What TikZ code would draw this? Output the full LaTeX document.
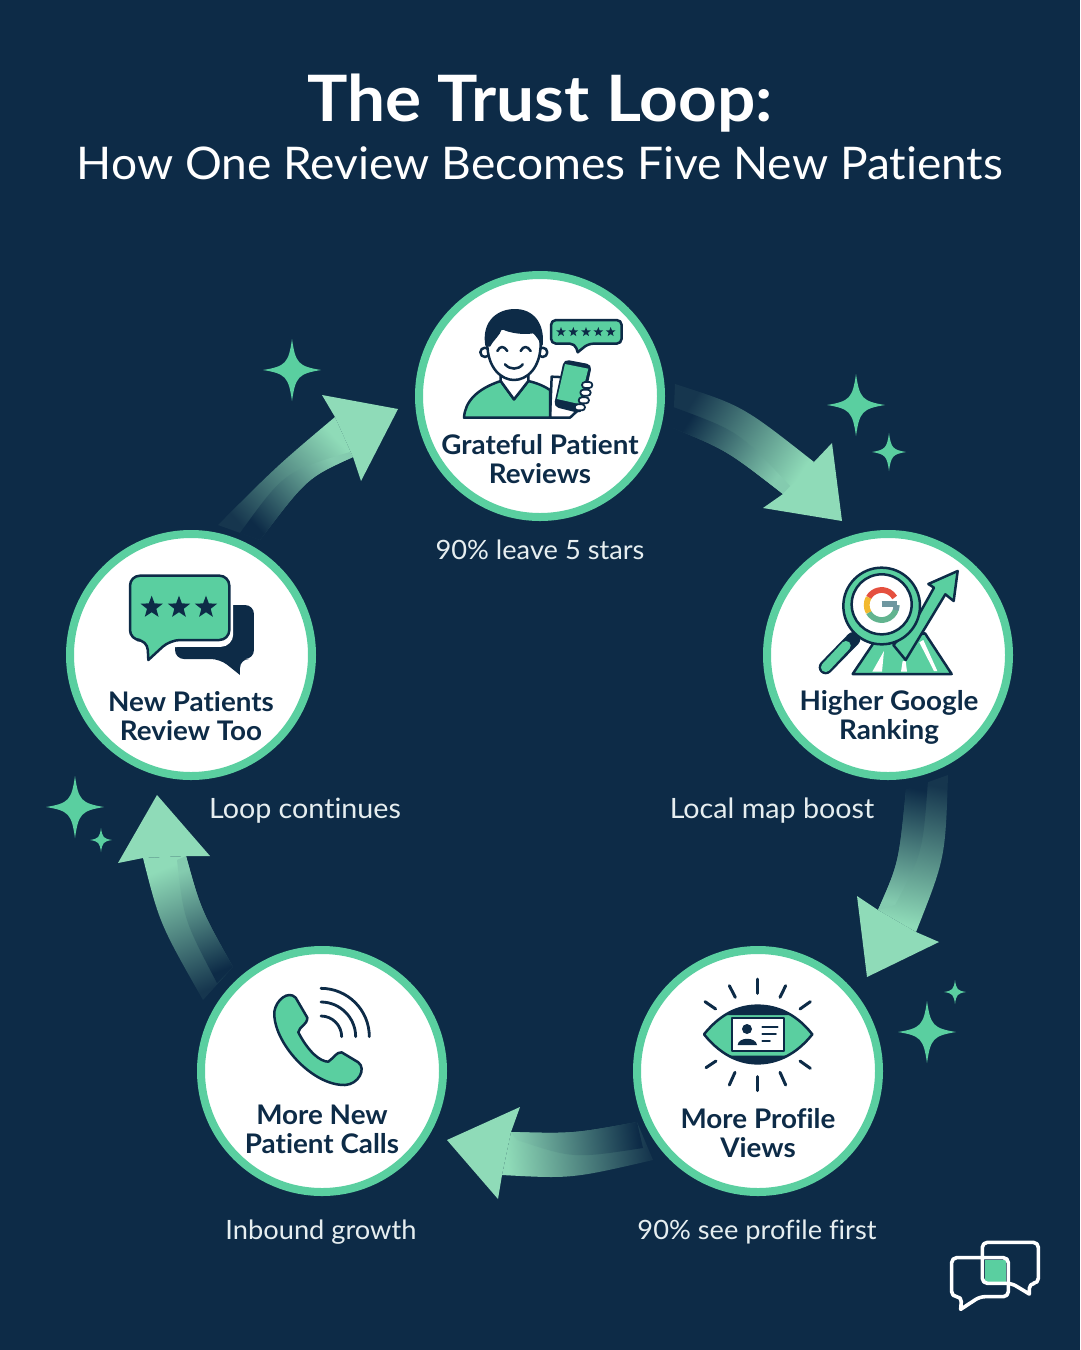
\documentclass[tikz,border=0pt]{standalone}
\usepackage{fontspec}
\setmainfont{Lato}[Ligatures=NoCommon]
\newfontfamily\titlefam{Lato}[Ligatures=NoCommon,FakeStretch=1.055]
\newfontfamily\subfam{Lato}[Ligatures=NoCommon,FakeStretch=1.024]
\newfontfamily\labfam{Lato}[Ligatures=NoCommon,FakeStretch=1.03]
\usetikzlibrary{calc}
\definecolor{bg}{HTML}{0D2B47}
\definecolor{ringc}{HTML}{5ACFA0}
\definecolor{headc}{HTML}{8FDBB8}
\definecolor{midl}{HTML}{78AAA5}
\definecolor{midd}{HTML}{44707A}
\definecolor{startc}{HTML}{16364E}
\definecolor{subc}{HTML}{E6EEF0}
\definecolor{gred}{HTML}{E5503F}
\definecolor{gyel}{HTML}{F2B92F}
\definecolor{ggrn}{HTML}{62B48F}
\definecolor{gblu}{HTML}{6F97A0}
\tikzset{
  stepcircle/.style={circle,draw=ringc,fill=white,line width=8pt,minimum size=242pt,inner sep=0pt},
  steplabel/.style={text=bg,align=center,font=\labfam\fontsize{27}{29}\selectfont\bfseries,inner sep=0pt},
  sublabel/.style={text=subc,font=\subfam\fontsize{28}{30}\selectfont,inner sep=0pt},
  sublabelsmall/.style={text=subc,font=\subfam\fontsize{26.6}{30}\selectfont,inner sep=0pt},
  bandlight/.style={bottom color=startc,middle color=midl,top color=headc},
  banddark/.style={bottom color=bg,middle color=midd,top color=headc!85!midd},
  headfill/.style={fill=headc},
  spark/.style={fill=ringc},
  ico/.style={draw=bg,line width=2.5pt,line join=round,line cap=round},
  icogreen/.style={ico,fill=ringc},
  zoomed/.style={x=0.33333pt,y=-0.33333pt},
}
\newcommand\sparkle[4]{\fill[spark] (#1-#3,#2) .. controls (#1-0.22*#3,#2-0.12*#4) and (#1-0.12*#3,#2-0.22*#4) .. (#1,#2-#4)
 .. controls (#1+0.12*#3,#2-0.22*#4) and (#1+0.22*#3,#2-0.12*#4) .. (#1+#3,#2)
 .. controls (#1+0.22*#3,#2+0.12*#4) and (#1+0.12*#3,#2+0.22*#4) .. (#1,#2+#4)
 .. controls (#1-0.12*#3,#2+0.22*#4) and (#1-0.22*#3,#2+0.12*#4) .. cycle;}
\newcommand\smallstar[3]{\fill[bg,shift={(#1,#2)}] (-90:#3) -- (-54:0.42*#3) -- (-18:#3) -- (18:0.42*#3) -- (54:#3) -- (90:0.42*#3) -- (126:#3) -- (162:0.42*#3) -- (198:#3) -- (234:0.42*#3) -- cycle;}
\begin{document}
\begin{tikzpicture}[x=1pt,y=-1pt]
\useasboundingbox (0,0) rectangle (1080,1350);
\fill[bg] (0,0) rectangle (1080,1350);

% title
\node[text=white,font=\titlefam\fontsize{64}{70}\selectfont\bfseries,inner sep=0pt] (title) at (540,103) {The Trust Loop:};
\node[text=white,font=\subfam\fontsize{45}{50}\selectfont,inner sep=0pt] (subtitle) at (540,163) {How One Review Becomes Five New Patients};

% arrows
\coordinate (tipA) at (842,521);
\coordinate (tipB) at (867,977);
\coordinate (tipC) at (447,1140);
\coordinate (tipD) at (157,795);
\coordinate (tipE) at (398,409);

\shade[bandlight,shading angle=-123] (675,384) .. controls (742.5,405.7) .. (814,462) -- (790,500) -- (783,494) .. controls (726.7,450.3) .. (673,428) -- cycle;
\shade[banddark,shading angle=-123] (673,407) .. controls (738.8,431.2) .. (790,486) -- (783,494) .. controls (726.7,450.3) .. (673,428) -- cycle;
\fill[headfill] (814,462) -- (832,443) -- (tipA) -- (763,508) -- (783,494) -- cycle;

\shade[bandlight,shading angle=-192.5] (948,775) .. controls (945.3,858.2) .. (916,932) -- (878,910) .. controls (898.7,863.3) .. (906,790) -- cycle;
\shade[banddark,shading angle=-192.5] (928,780) .. controls (922.8,852.5) .. (895,905) -- (878,910) .. controls (898.7,863.3) .. (906,790) -- cycle;
\fill[headfill] (916,932) -- (939,942) -- (tipB) -- (857,896) -- (878,910) -- cycle;

\shade[bandlight,shading angle=96] (653,1160) .. controls (571.5,1178.8) .. (502,1175) -- (511,1132) .. controls (572.7,1133.7) .. (637,1122) -- cycle;
\shade[banddark,shading angle=96] (643,1148) .. controls (573.3,1158.7) .. (517,1140) -- (511,1132) .. controls (572.7,1133.7) .. (637,1122) -- cycle;
\fill[headfill] (511,1132) -- (520,1107) -- (tipC) -- (498,1199) -- (502,1175) -- cycle;

\shade[bandlight,shading angle=22] (203,1000) .. controls (159.7,923.7) .. (143,858) -- (186,856) .. controls (200.8,909.5) .. (233,967) -- cycle;
\shade[banddark,shading angle=22] (217,983) .. controls (183.7,919.5) .. (177,860) -- (186,856) .. controls (200.8,909.5) .. (233,967) -- cycle;
\fill[headfill] (186,856) -- (210,856) -- (tipD) -- (118,863) -- (143,858) -- cycle;

\shade[bandlight,shading angle=-47] (218,525) .. controls (277.2,465.7) .. (335,417) -- (353,457) .. controls (307.2,477.8) .. (260,540) -- cycle;
\shade[banddark,shading angle=-47] (240,533) .. controls (284.3,471.8) .. (350,452) -- (353,457) .. controls (307.2,477.8) .. (260,540) -- cycle;
\fill[headfill] (335,417) -- (322,395) -- (tipE) -- (361,481) -- (353,457) -- cycle;

% sparkles
\sparkle{292}{370}{29}{31}
\sparkle{856}{405}{29}{31}
\sparkle{889}{452}{17}{19}
\sparkle{927}{1032}{29}{31}
\sparkle{955}{992}{11}{12}
\sparkle{75}{807}{29}{31}
\sparkle{101}{840}{11}{12}

% circles
\node[stepcircle] (n1) at (540,396) {};
\node[stepcircle] (n2) at (888,655) {};
\node[stepcircle] (n3) at (758,1071) {};
\node[stepcircle] (n4) at (322,1071) {};
\node[stepcircle] (n5) at (191,655) {};

% labels
\node[steplabel] (l1) at (540,459.5) {Grateful Patient\\Reviews};
\node[steplabel] (l2) at (889,717) {Higher Google\\Ranking};
\node[steplabel] (l3) at (758,1133) {More Profile\\Views};
\node[steplabel] (l4) at (322,1129) {More New\\Patient Calls};
\node[steplabel] (l5) at (191,716) {New Patients\\Review Too};

\node[sublabelsmall] (s1) at (540,550) {90\% leave 5 stars};
\node[sublabel] (s2) at (772,811) {Local map boost};
\node[sublabelsmall] (s3) at (757,1232) {90\% see profile first};
\node[sublabelsmall] (s4) at (321,1232) {Inbound growth};
\node[sublabel] (s5) at (305,811) {Loop continues};

% icon 1: person
\begin{scope}[shift={(410,265)},zoomed]
\draw[ico,fill=white] (425,335) -- (420,458) -- (480,458) -- (510,430) -- (530,340) -- cycle;
\draw[icogreen] (162,458) .. controls (165,410) and (200,372) .. (272,348) -- (312,403) -- (355,348) .. controls (385,355) and (405,365) .. (420,375) -- (420,458) -- cycle;
\draw[ico,fill=white] (272,348) -- (272,320) -- (355,320) -- (355,348) -- (312,403) -- cycle;
\draw[ico,fill=white] (225,262) circle[radius=14];
\draw[ico,fill=white] (398,262) circle[radius=14];
\draw[ico,fill=white] (232,235) .. controls (232,310) and (275,345) .. (312,345) .. controls (350,345) and (392,310) .. (392,235) .. controls (392,170) and (232,170) .. (232,235) -- cycle;
\fill[bg] (226,242) .. controls (215,180) and (250,135) .. (310,132) .. controls (375,130) and (405,180) .. (398,242) .. controls (385,225) and (380,215) .. (370,205) .. controls (340,210) and (300,205) .. (275,192) .. controls (272,210) and (250,225) .. (240,245) -- cycle;
\draw[ico] (262,258) .. controls (270,242) and (282,242) .. (292,258);
\draw[ico] (332,258) .. controls (340,242) and (352,242) .. (362,258);
\draw[ico] (285,298) .. controls (300,315) and (325,315) .. (338,298);
% phone
\fill[bg,rounded corners=5pt] (462,283) -- (546,299) -- (515,446) -- (431,425) -- cycle;
\fill[ringc] (465,297) -- (535,311) -- (508,417) -- (441,402) -- cycle;
\foreach \fy/\fx in {360/532,383/527,406/522,427/510}
  {\draw[ico,fill=white,line width=1.8pt,rounded corners=3pt] (\fx-16,\fy-9) rectangle (\fx+15,\fy+9);}
% bubble
\draw[icogreen,rounded corners=5pt] (423,165) -- (635,165) -- (635,236) -- (535,236) [sharp corners] -- (503,262) [rounded corners=5pt] -- (495,236) -- (423,236) -- cycle;
\foreach \sx in {453,490,528,565,602} {\smallstar{\sx}{201}{15}}
\end{scope}

% icon 2: search and rise
\begin{scope}[shift={(760,525)},zoomed]
\draw[icogreen] (278,447) -- (340,355) -- (495,325) -- (575,447) -- cycle;
\fill[white] (337,440) -- (372,378) -- (366,440) -- cycle;
\fill[white] (423,440) -- (428,408) -- (437,408) -- (441,440) -- cycle;
\fill[white] (478,352) -- (490,345) -- (532,438) -- (522,438) -- cycle;
\draw[ico,line width=14pt,line cap=round] (280,342) -- (197,427);
\draw[ringc,line width=9.5pt,line cap=round] (258,362) -- (197,427);
\draw[icogreen] (400,360) -- (465,290) -- (522,188) -- (505,177) -- (593,138) -- (581,228) -- (556,208) -- (437,405) -- cycle;
\draw[ico,fill=ringc] (365,243) circle[radius=115];
\draw[ico,fill=white] (365,238) circle[radius=90];
\begin{scope}[line width=5.8pt,line cap=butt]
\draw[gred] (365,240) +(-150:45) arc[start angle=-150,end angle=-30,radius=45];
\draw[ggrn] (365,240) +(150:45) arc[start angle=150,end angle=0,radius=45];
\draw[gyel] (365,240) +(-150:45) arc[start angle=-150,end angle=-210,radius=45];
\draw[gblu] (365,240) +(0:45) arc[start angle=0,end angle=20,radius=45];
\draw[gblu] (365,236) -- (410,236);
\end{scope}
\end{scope}

% icon 3: eye
\begin{scope}[shift={(630,945)},zoomed]
\draw[icogreen] (222,268) .. controls (280,195) and (340,182) .. (383,182) .. controls (426,182) and (490,195) .. (547,268) .. controls (490,340) and (426,355) .. (383,355) .. controls (340,355) and (280,340) .. (222,268) -- cycle;
\fill[bg] (290,210) .. controls (340,175) and (426,175) .. (478,210) -- cycle;
\fill[bg] (300,332) .. controls (340,360) and (426,360) .. (468,332) -- cycle;
\draw[ico,fill=white,line width=2pt] (305,220) rectangle (462,318);
\fill[bg] (351,252) circle[radius=15];
\fill[bg] (323,300) .. controls (325,275) and (378,275) .. (381,300) -- cycle;
\draw[ico,line width=1.8pt] (397,247) -- (443,247);
\draw[ico,line width=1.8pt] (397,267) -- (438,267);
\draw[ico,line width=1.8pt] (397,287) -- (420,287);
\foreach \a/\b/\c/\d in {382/102/382/145,298/122/316/157,467/122/450/157,225/170/257/192,541/170/510/192,228/368/258/348,541/370/510/348,315/382/298/420,450/382/467/420,382/395/382/437}
  {\draw[ico,line width=3pt] (\a,\b) -- (\c,\d);}
\end{scope}

% icon 4: phone
\begin{scope}[shift={(195,945)},zoomed]
\draw[icogreen] (238,200) .. controls (243,165) and (280,135) .. (302,158) -- (337,218) .. controls (337,240) and (312,245) .. (310,262) .. controls (340,320) and (375,350) .. (400,350) .. controls (415,340) and (425,320) .. (440,322) -- (490,352) .. controls (515,372) and (490,418) .. (450,420) .. controls (350,422) and (233,290) .. (238,200) -- cycle;
\draw[ico,line width=2.8pt] (378,213) .. controls (412,213) and (440,241) .. (440,275);
\draw[ico,line width=2.8pt] (378,171) .. controls (435,171) and (482,218) .. (482,275);
\draw[ico,line width=2.8pt] (378,130) .. controls (458,130) and (523,195) .. (523,275);
\end{scope}

% icon 5: bubbles
\begin{scope}[shift={(60,525)},zoomed]
\fill[bg,rounded corners=9pt] (345,240) -- (582,240) -- (582,402) -- (540,402) [sharp corners] -- (540,450) [rounded corners=9pt] -- (480,402) -- (345,402) -- cycle;
\draw[white,line width=5pt,fill=white,rounded corners=10pt] (207,150) -- (512,150) -- (512,358) -- (325,358) [sharp corners] -- (264,410) [rounded corners=10pt] -- (258,358) -- (207,358) -- cycle;
\draw[icogreen,rounded corners=10pt] (210,152) -- (508,152) -- (508,345) -- (330,345) [sharp corners] -- (265,405) [rounded corners=10pt] -- (262,345) -- (210,345) -- cycle;
\foreach \sx in {275,357,438} {\smallstar{\sx}{247}{35}}
\end{scope}

% logo
\begin{scope}[shift={(930,1225)},zoomed]
\fill[ringc] (165,105) rectangle (228,170);
\draw[white,line width=3.6pt,rounded corners=5pt,line join=round] (157,52) -- (325,52) -- (325,175) -- (298,175) [sharp corners] -- (298,207) [rounded corners=5pt] -- (245,175) -- (157,175) -- cycle;
\draw[white,line width=3.6pt,rounded corners=5pt,line join=round] (65,98) -- (235,98) -- (235,215) -- (150,215) [sharp corners] -- (92,253) [rounded corners=5pt] -- (95,215) -- (65,215) -- cycle;
\end{scope}
\end{tikzpicture}
\end{document}
